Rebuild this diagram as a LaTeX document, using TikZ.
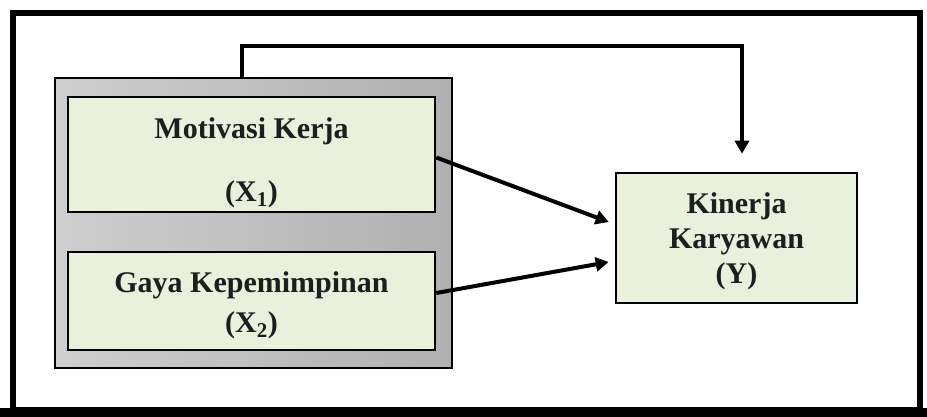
\documentclass[tikz,border=0pt]{standalone}
\usepackage{fontspec}
\setmainfont{Liberation Serif}
\usetikzlibrary{arrows.meta}
\definecolor{boxfill}{RGB}{233,240,220}
\definecolor{inkdark}{RGB}{30,30,30}
\begin{document}
\begin{tikzpicture}[x=1pt,y=-1pt,
  varbox/.style={draw=black,line width=2.6pt,fill=boxfill,inner sep=0pt},
  vartext/.style={text=inkdark,align=center,inner sep=0pt,
    font=\fontsize{30}{36}\selectfont\bfseries},
  conn/.style={draw=black,line width=4pt,
    -{Triangle[length=13pt,width=14pt]}}]
\useasboundingbox (0,0) rectangle (927,417);
\fill[white] (0,0) rectangle (927,417);
% outer frame
\draw[line width=6pt] (13,13) rectangle (920,410);
\fill[black] (0,408) rectangle (927,417);
% grouping panel with metallic shading
\node[draw=black,line width=1.5pt,minimum width=397pt,minimum height=290pt,
  left color=gray!38,middle color=gray!15,right color=gray!62,
  inner sep=0pt] (grp) at (253.5,223) {};
% independent variables
\node[varbox,minimum width=367pt,minimum height=115pt] (x1) at (251.5,154.5) {};
\node[vartext] (x1t) at ([yshift=-8pt]x1.center)
  {Motivasi Kerja\\[27pt](X\textsubscript{1})};
\node[varbox,minimum width=367pt,minimum height=98pt] (x2) at (251.5,301) {};
\node[vartext] (x2t) at ([yshift=-4pt]x2.center)
  {Gaya Kepemimpinan\\[4pt](X\textsubscript{2})};
% dependent variable
\node[varbox,minimum width=241pt,minimum height=130pt] (y) at (736.5,238) {};
\node[vartext,font=\fontsize{30}{35}\selectfont\bfseries] (yt)
  at ([yshift=-3pt]y.center) {Kinerja\\Karyawan\\(Y)};
% simultaneous effect
\coordinate (fbtop) at (742,46);
\draw[conn] ([xshift=-11.5pt]grp.north) |- (fbtop)
  -- ([xshift=5.5pt,yshift=18pt]y.north);
% partial effects
\draw[conn] ([yshift=-3pt]x1.east) -- ([xshift=-6pt,yshift=16pt]y.west);
\draw[conn] ([yshift=8pt]x2.east) -- ([xshift=-6pt,yshift=-24pt]y.west);
\end{tikzpicture}
\end{document}
